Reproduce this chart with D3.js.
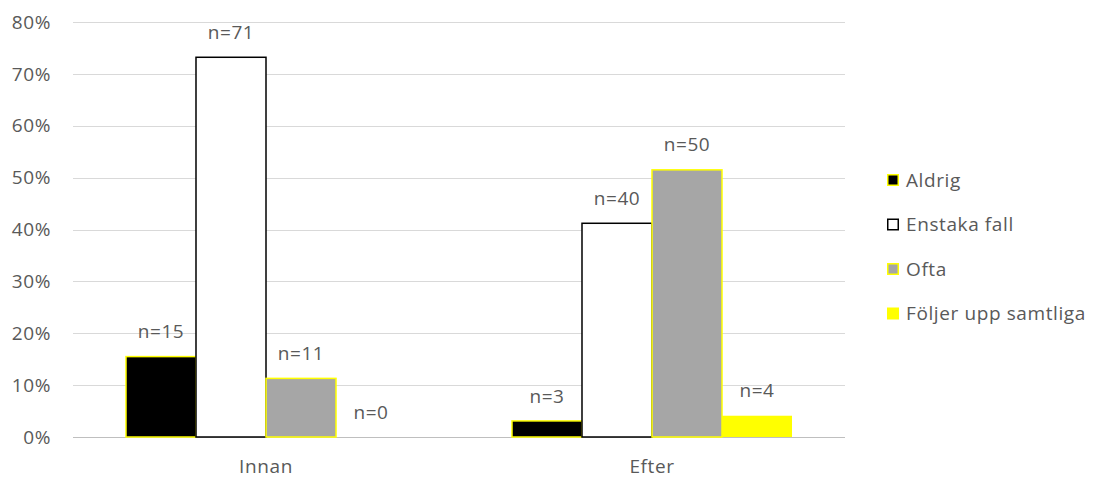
<!DOCTYPE html>
<html><head><meta charset="utf-8">
<script src="https://cdn.jsdelivr.net/npm/d3@7"></script>
<style>body{margin:0;background:#fff}svg text{font-family:"Open Sans",sans-serif;fill:#595959;font-size:19px;letter-spacing:0.6px}</style>
</head><body><svg id="c" width="1094" height="479"></svg>
<script>
const categories = ["Innan", "Efter"];
const seriesNames = ["Aldrig", "Enstaka fall", "Ofta", "Följer upp samtliga"];
const aldrig = [15.5, 3.1];
const enstaka = [73.2, 41.2];
const ofta = [11.3, 51.5];
const foljer = [0, 4.1];
const counts = [[15, 3], [71, 40], [11, 50], [0, 4]];
const yTicks = [0, 10, 20, 30, 40, 50, 60, 70, 80];

(function () {
const values = [aldrig, enstaka, ofta, foljer];
const fills = ["#000000", "#ffffff", "#a6a6a6", "#ffff00"];
const strokes = ["#ffff00", "#000000", "#ffff00", "none"];

const svg = d3.select("#c");
const mLeft = 73, mRight = 845, mTop = 22, mBottom = 437;
const y = d3.scaleLinear().domain([0, 80]).range([mBottom, mTop]);
const x0 = d3.scaleBand().domain(categories).range([mLeft, mRight]).paddingInner(0.2746).paddingOuter(0.1373);
const x1 = d3.scaleBand().domain(d3.range(seriesNames.length)).range([0, x0.bandwidth()]);

svg.append("g").selectAll("line").data(yTicks).join("line")
  .attr("x1", mLeft).attr("x2", mRight)
  .attr("y1", d => Math.round(y(d)) + 0.5).attr("y2", d => Math.round(y(d)) + 0.5)
  .attr("stroke", d => d === 0 ? "#bfbfbf" : "#d9d9d9").attr("stroke-width", 1);

svg.append("g").selectAll("text").data(yTicks).join("text")
  .attr("x", 51).attr("y", d => y(d)).attr("dy", "0.35em")
  .attr("text-anchor", "end")
  .text(d => d + "%");

const groups = svg.append("g").selectAll("g").data(categories).join("g")
  .attr("transform", c => `translate(${x0(c)},0)`);
groups.each(function (c, ci) {
  const g = d3.select(this);
  values.forEach((arr, si) => {
    const v = arr[ci];
    const bx = x1(si), bw = x1.bandwidth();
    if (v > 0) {
      g.append("rect").attr("x", bx).attr("y", y(v))
        .attr("width", bw).attr("height", Math.max(0, y(0) - y(v)))
        .attr("fill", fills[si])
        .attr("stroke", strokes[si]).attr("stroke-width", 1.5);
    }
    g.append("text").attr("x", bx + bw / 2).attr("y", y(v) - 25).attr("dy", "0.35em")
      .attr("text-anchor", "middle")
      .text("n=" + counts[si][ci]);
  });
});

svg.append("g").selectAll("text").data(categories).join("text")
  .attr("x", c => x0(c) + x0.bandwidth() / 2).attr("y", 466).attr("dy", "0.35em")
  .attr("text-anchor", "middle").text(c => c);

const lg = svg.append("g").selectAll("g").data(seriesNames).join("g")
  .attr("transform", (d, i) => `translate(887,${180 + i * 44.5})`);
lg.append("rect").attr("x", 0.75).attr("y", -5.25).attr("width", 10.5).attr("height", 10.5)
  .attr("fill", (d, i) => fills[i]).attr("stroke", (d, i) => strokes[i] === "none" ? "#ffff00" : strokes[i]).attr("stroke-width", 1.5);
lg.append("text").attr("x", 19).attr("y", 0).attr("dy", "0.35em").text(d => d);
})();
</script></body></html>
